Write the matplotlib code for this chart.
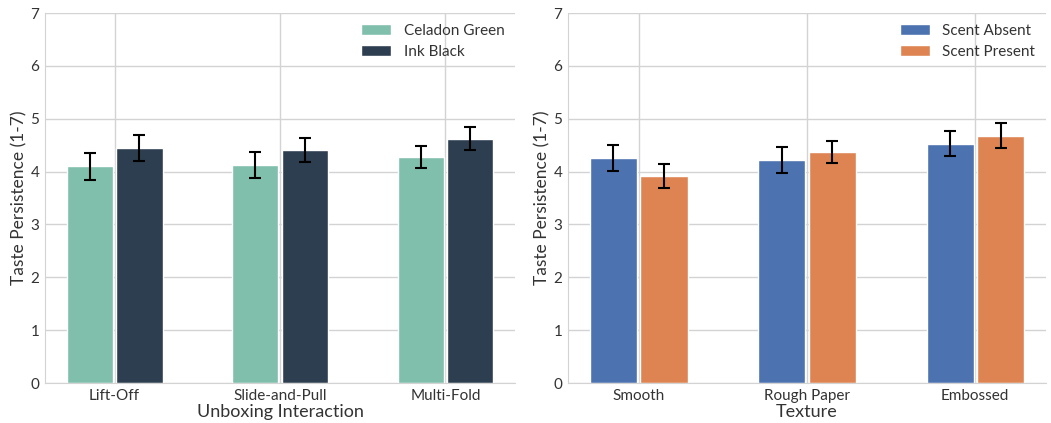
import matplotlib.pyplot as plt
import numpy as np

plt.rcParams['font.family'] = ['Lato', 'DejaVu Sans']

# left panel data
interactions = ["Lift-Off", "Slide-and-Pull", "Multi-Fold"]
celadon_mean = [4.10, 4.12, 4.28]
celadon_err = [0.25, 0.25, 0.21]
ink_mean = [4.45, 4.41, 4.62]
ink_err = [0.25, 0.23, 0.22]

# right panel data
textures = ["Smooth", "Rough Paper", "Embossed"]
absent_mean = [4.26, 4.22, 4.53]
absent_err = [0.24, 0.24, 0.24]
present_mean = [3.92, 4.37, 4.68]
present_err = [0.23, 0.20, 0.24]

fig = plt.figure(figsize=(10.51, 4.23), dpi=100)
ax1 = fig.add_axes([45 / 1051, 40 / 423, 470 / 1051, 370 / 423])
ax2 = fig.add_axes([568 / 1051, 40 / 423, 478 / 1051, 370 / 423])

grid_col = "#d3d3d3"
text_col = "#333333"


def draw_panel(ax, cats, m1, e1, m2, e2, c1, c2, l1, l2, xlabel):
    x = np.arange(len(cats))
    w = 0.28
    ax.bar(x - 0.15, m1, w, color=c1, edgecolor="white", linewidth=1, label=l1, zorder=2)
    ax.bar(x + 0.15, m2, w, color=c2, edgecolor="white", linewidth=1, label=l2, zorder=2)
    ax.errorbar(x - 0.15, m1, yerr=e1, fmt="none", ecolor="black", elinewidth=1.5, capsize=4, capthick=1.5, zorder=3)
    ax.errorbar(x + 0.15, m2, yerr=e2, fmt="none", ecolor="black", elinewidth=1.5, capsize=4, capthick=1.5, zorder=3)
    ax.set_xticks(x)
    ax.set_xticklabels(cats)
    ax.set_xlim(-0.42, 2.42)
    ax.set_ylim(0, 7)
    ax.set_yticks(range(8))
    ax.grid(True, color=grid_col, linewidth=1, zorder=0)
    ax.set_axisbelow(True)
    for s in ["top", "right"]:
        ax.spines[s].set_visible(False)
    for s in ["left", "bottom"]:
        ax.spines[s].set_color(grid_col)
    ax.tick_params(length=0, labelsize=11, colors=text_col, pad=4)
    ax.set_ylabel("Taste Persistence (1-7)", fontsize=12.5, color=text_col, labelpad=2)
    ax.set_xlabel(xlabel, fontsize=13, color=text_col, labelpad=1)
    leg = ax.legend(loc="upper right", frameon=False, fontsize=11, handlelength=2.0,
                    handleheight=0.8, borderaxespad=0.3, labelspacing=0.45)
    for t in leg.get_texts():
        t.set_color(text_col)


draw_panel(ax1, interactions, celadon_mean, celadon_err, ink_mean, ink_err,
           "#7fbfab", "#2c3e50", "Celadon Green", "Ink Black", "Unboxing Interaction")
draw_panel(ax2, textures, absent_mean, absent_err, present_mean, present_err,
           "#4c72b0", "#dd8452", "Scent Absent", "Scent Present", "Texture")

plt.savefig("out.png", dpi=100)
